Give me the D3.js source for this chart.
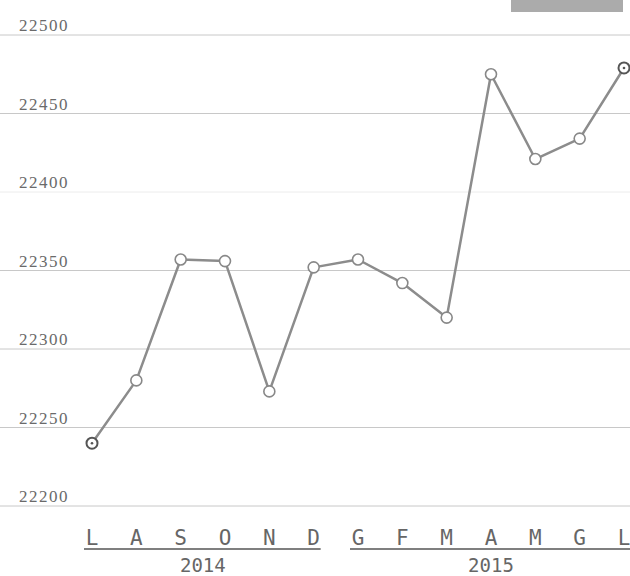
<!DOCTYPE html>
<html>
<head>
<meta charset="utf-8">
<script src="https://cdn.jsdelivr.net/npm/d3@7"></script>
<style>
  html, body { margin: 0; padding: 0; background: #fff; }
  svg { display: block; }
</style>
</head>
<body>
<div id="chart"></div>
<script>
// ---- data ----
const months = ["L", "A", "S", "O", "N", "D", "G", "F", "M", "A", "M", "G", "L"];
const monthYear = [2014, 2014, 2014, 2014, 2014, 2014, 2015, 2015, 2015, 2015, 2015, 2015, 2015];
const values = [22240, 22280, 22357, 22356, 22273, 22352, 22357, 22342, 22320, 22475, 22421, 22434, 22479];
const years = [2014, 2015];
const yTicks = [22200, 22250, 22300, 22350, 22400, 22450, 22500];

// ---- layout ----
const W = 630, H = 576;
const svg = d3.select("#chart").append("svg").attr("width", W).attr("height", H);

const idx = d3.range(months.length);
const x = d3.scaleLinear().domain([0, months.length - 1]).range([92, 624]);
const y = d3.scaleLinear().domain([22200, 22500]).range([506, 35]);

// top-right grey tab
svg.append("rect")
  .attr("x", 511).attr("y", 0).attr("width", 112).attr("height", 12)
  .attr("fill", "#ababab");

// gridlines
svg.append("g").selectAll("line").data(yTicks).join("line")
  .attr("x1", 0).attr("x2", W)
  .attr("y1", d => y(d)).attr("y2", d => y(d))
  .attr("stroke", d => d === 22400 ? "#ececec" : "#c8c8c8")
  .attr("stroke-width", 1);

// y labels
svg.append("g").selectAll("text").data(yTicks).join("text")
  .attr("x", 19).attr("y", d => y(d) - 4)
  .attr("font-family", "Liberation Serif, serif")
  .attr("font-size", 17)
  .attr("letter-spacing", 1.5)
  .attr("fill", "#6a6a6a")
  .text(d => d);

// line
const line = d3.line().x(i => x(i)).y(i => y(values[i]));
svg.append("path")
  .datum(idx)
  .attr("d", line)
  .attr("fill", "none")
  .attr("stroke", "#8c8c8c")
  .attr("stroke-width", 2.5)
  .attr("stroke-linejoin", "round");

// points
svg.append("g").selectAll("circle").data(idx).join("circle")
  .attr("cx", i => x(i)).attr("cy", i => y(values[i]))
  .attr("r", 5.5)
  .attr("fill", "#fff")
  .attr("stroke", i => (i === 0 || i === idx.length - 1) ? "#555" : "#888")
  .attr("stroke-width", i => (i === 0 || i === idx.length - 1) ? 2 : 1.6);

// centre dots on first and last
svg.append("g").selectAll("circle").data([0, idx.length - 1]).join("circle")
  .attr("cx", i => x(i)).attr("cy", i => y(values[i]))
  .attr("r", 1.3)
  .attr("fill", "#555");

// month labels
svg.append("g").selectAll("text").data(idx).join("text")
  .attr("x", i => x(i)).attr("y", 545)
  .attr("text-anchor", "middle")
  .attr("font-family", "DejaVu Sans Mono, monospace")
  .attr("font-size", 21)
  .attr("fill", "#666")
  .text(i => months[i]);

// year underlines and labels
years.forEach(yr => {
  const ids = idx.filter(i => monthYear[i] === yr);
  const x0 = x(d3.min(ids)) - 8, x1 = x(d3.max(ids)) + 7;
  svg.append("line")
    .attr("x1", x0).attr("x2", x1)
    .attr("y1", 549).attr("y2", 549)
    .attr("stroke", "#555").attr("stroke-width", 1.5);
  svg.append("text")
    .attr("x", (x(d3.min(ids)) + x(d3.max(ids))) / 2)
    .attr("y", 572)
    .attr("text-anchor", "middle")
    .attr("font-family", "DejaVu Sans Mono, monospace")
    .attr("font-size", 19)
    .attr("fill", "#666")
    .text(yr);
});
</script>
</body>
</html>
